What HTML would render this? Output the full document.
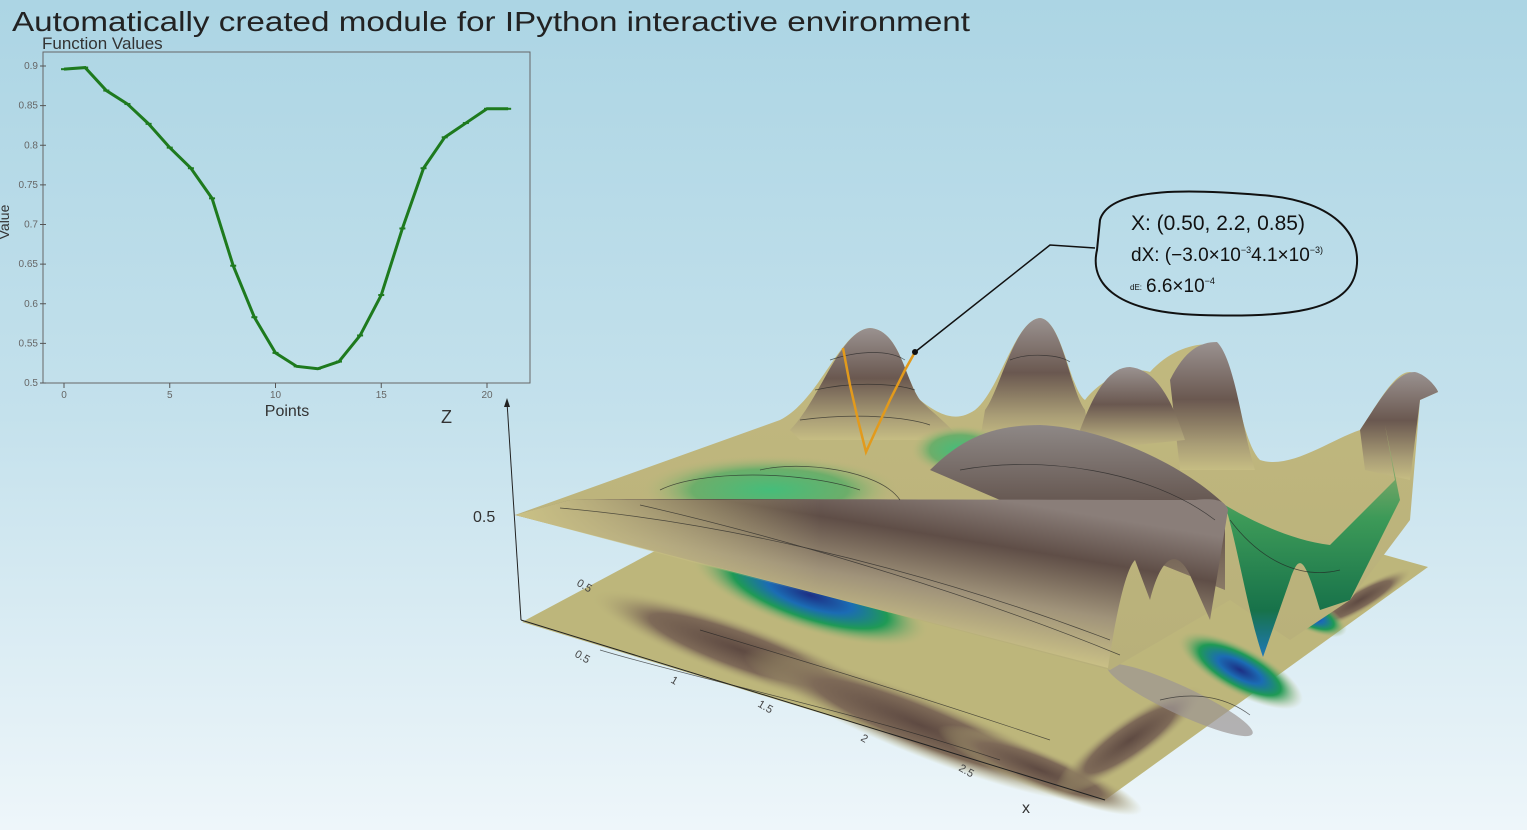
<!DOCTYPE html>
<html><head><meta charset="utf-8"><style>
html,body{margin:0;padding:0;width:1527px;height:830px;overflow:hidden}
body{background:linear-gradient(180deg,#acd5e4 0%,#c4e1ec 50%,#eef6fa 100%);font-family:"Liberation Sans",sans-serif}
svg{position:absolute;left:0;top:0}
</style></head><body>
<svg width="1527" height="830">
<defs>
<linearGradient id="peak" x1="0" y1="0" x2="0" y2="1">
<stop offset="0" stop-color="#9a9290"/><stop offset="0.45" stop-color="#6a5850"/><stop offset="0.8" stop-color="#a99d76"/><stop offset="1" stop-color="#c6bd83"/></linearGradient>
<linearGradient id="fold" gradientUnits="userSpaceOnUse" x1="1000" y1="500" x2="975" y2="650">
<stop offset="0" stop-color="#8a7e79"/><stop offset="0.3" stop-color="#5f4e47"/><stop offset="0.65" stop-color="#a0937a"/><stop offset="1" stop-color="#cdc487"/></linearGradient>
<linearGradient id="foldL" gradientUnits="userSpaceOnUse" x1="520" y1="0" x2="820" y2="0">
<stop offset="0" stop-color="#c9c085"/><stop offset="1" stop-color="#c9c085" stop-opacity="0"/></linearGradient>
<linearGradient id="dome" x1="0" y1="0" x2="0" y2="1">
<stop offset="0" stop-color="#8e8886"/><stop offset="0.55" stop-color="#5f4f48"/><stop offset="1" stop-color="#8a7a66"/></linearGradient>
<linearGradient id="backs" x1="0" y1="0" x2="0" y2="1">
<stop offset="0" stop-color="#c2b97f"/><stop offset="1" stop-color="#b8b07a"/></linearGradient>
<linearGradient id="gsheet" x1="0" y1="0" x2="0" y2="1">
<stop offset="0" stop-color="#b9b47a"/><stop offset="0.4" stop-color="#3d9a58"/><stop offset="0.8" stop-color="#17724a"/><stop offset="1" stop-color="#1f78b8"/></linearGradient>
<radialGradient id="blue"><stop offset="0" stop-color="#1d2f84"/><stop offset="0.35" stop-color="#1b6cb4"/><stop offset="0.65" stop-color="#1f9a55"/><stop offset="1" stop-color="#bdb77c" stop-opacity="0"/></radialGradient>
<radialGradient id="green"><stop offset="0" stop-color="#45bd7a"/><stop offset="0.6" stop-color="#6cae6a"/><stop offset="1" stop-color="#bdb77c" stop-opacity="0"/></radialGradient>
<radialGradient id="brown"><stop offset="0" stop-color="#5e4a42"/><stop offset="0.6" stop-color="#7e6a58"/><stop offset="1" stop-color="#bdb77c" stop-opacity="0"/></radialGradient>
</defs>

<text x="12" y="31" font-size="28" fill="#222" textLength="958" lengthAdjust="spacingAndGlyphs">Automatically created module for IPython interactive environment</text>

<g id="chart"></g>

<g>
<polygon points="522,622 1105,800 1428,567 900,420" fill="#bdb67b"/>
<g>
<ellipse cx="740" cy="650" rx="160" ry="28" transform="rotate(20 740 650)" fill="url(#brown)"/>
<ellipse cx="920" cy="725" rx="190" ry="30" transform="rotate(22 920 725)" fill="url(#brown)"/>
<ellipse cx="1040" cy="770" rx="110" ry="20" transform="rotate(22 1040 770)" fill="url(#brown)"/>
<ellipse cx="1130" cy="740" rx="90" ry="22" transform="rotate(-35 1130 740)" fill="url(#brown)"/>
<ellipse cx="1180" cy="700" rx="80" ry="14" transform="rotate(25 1180 700)" fill="#9c9694" opacity="0.7"/>
<ellipse cx="1360" cy="600" rx="60" ry="12" transform="rotate(-30 1360 600)" fill="url(#brown)"/>
</g>
<ellipse cx="810" cy="595" rx="125" ry="36" transform="rotate(18 810 595)" fill="url(#blue)"/>
<ellipse cx="1240" cy="670" rx="70" ry="24" transform="rotate(28 1240 670)" fill="url(#blue)"/>
<ellipse cx="1310" cy="615" rx="40" ry="16" transform="rotate(25 1310 615)" fill="url(#blue)"/>

<path fill="url(#backs)" d="M515,515 L780,420 C820,400 840,330 870,328 C900,330 905,380 920,400 C945,420 960,420 975,410 C1000,390 1015,320 1040,318 C1062,320 1070,390 1085,400 C1100,380 1130,365 1150,372 C1170,350 1195,342 1215,345 C1235,360 1240,440 1260,460 C1290,470 1330,440 1360,430 C1380,400 1395,372 1410,372 C1428,375 1438,390 1438,392 L1420,400 L1410,520 L1350,600 L1290,640 L1230,600 L1110,670 Z"/>
<path fill="url(#peak)" d="M790,430 C820,400 840,330 870,328 C900,330 905,380 920,400 C935,415 950,425 960,440 L800,440 Z"/>
<path fill="url(#peak)" d="M985,410 C1000,390 1015,320 1040,318 C1062,320 1070,390 1085,410 L1090,440 L980,440 Z"/>
<path fill="url(#peak)" d="M1170,380 C1185,350 1200,342 1217,342 C1235,360 1242,430 1255,470 L1180,470 Z"/>
<path fill="url(#peak)" d="M1360,430 C1380,400 1395,372 1415,372 C1428,375 1438,390 1438,392 L1420,400 L1410,480 L1365,470 Z"/>
<path fill="url(#peak)" d="M1080,430 C1095,390 1110,367 1130,367 C1160,370 1175,410 1185,440 L1090,450 Z"/>
<ellipse cx="770" cy="490" rx="130" ry="35" fill="url(#green)"/>
<ellipse cx="960" cy="450" rx="50" ry="25" fill="url(#green)"/>
<path fill="url(#dome)" d="M930,470 C960,440 990,425 1040,425 C1110,428 1190,470 1225,505 L1225,590 L1150,560 L1000,500 Z"/>
<path fill="url(#gsheet)" d="M1225,505 C1250,520 1290,540 1330,545 L1395,480 L1385,425 L1400,500 L1350,600 L1320,610 C1305,560 1300,550 1290,580 L1263,657 C1250,620 1240,560 1228,515 Z"/>
<path fill="url(#fold)" d="M515,515 L570,500 C700,498 1000,500 1195,500 C1215,498 1225,500 1228,510 L1210,620 L1190,575 C1175,545 1160,560 1150,600 L1135,560 C1125,570 1115,620 1108,668 Z"/>
<path fill="url(#foldL)" d="M515,515 L570,500 L820,500 L820,596 Z"/>
<g stroke="#222" stroke-width="0.7" fill="none" opacity="0.7">
<path d="M560,508 C700,520 900,560 1110,640"/><path d="M640,505 C750,530 950,585 1120,655"/>
<path d="M830,360 C860,350 890,350 905,360"/><path d="M815,390 C860,380 900,385 915,390"/><path d="M800,420 C860,412 910,418 930,425"/>
<path d="M1010,360 C1030,352 1060,355 1070,362"/><path d="M960,470 C1040,455 1150,470 1215,520"/>
<path d="M760,470 C800,460 880,470 900,500"/><path d="M660,490 C700,470 800,470 860,490"/>
<path d="M600,650 C700,680 850,710 1000,760"/><path d="M700,630 C800,660 900,690 1050,740"/>
<path d="M1160,700 C1200,690 1230,700 1250,715"/><path d="M1230,520 C1260,560 1300,580 1340,570"/>
</g>
<polyline points="843,348 850,385 858,420 866,452 876,430 890,400 905,370 915,352" fill="none" stroke="#e29a1c" stroke-width="2.5"/>
<circle cx="915" cy="352" r="3" fill="#111"/>
<line x1="521" y1="620" x2="507" y2="402" stroke="#222" stroke-width="1"/>
<polygon points="507,398 504,407 510,407" fill="#222"/>
<line x1="521" y1="620" x2="1105" y2="800" stroke="#222" stroke-width="1"/>
<text x="441" y="423" font-size="18" fill="#333">Z</text>
<text x="473" y="522" font-size="16" fill="#333">0.5</text>
<text x="1022" y="813" font-size="16" fill="#333">x</text>
<g font-size="11" fill="#444">
<text x="574" y="656" transform="rotate(30 574 656)">0.5</text><text x="670" y="682" transform="rotate(30 670 682)">1</text>
<text x="757" y="706" transform="rotate(30 757 706)">1.5</text><text x="860" y="740" transform="rotate(30 860 740)">2</text>
<text x="958" y="770" transform="rotate(30 958 770)">2.5</text><text x="576" y="585" transform="rotate(30 576 585)">0.5</text>
</g>
</g>

<g>
<polyline points="915,352 1050,245 1095,248" fill="none" stroke="#111" stroke-width="1.5"/>
<path d="M1100,220 C1110,185 1200,190 1260,195 C1340,200 1365,240 1355,275 C1345,310 1290,318 1200,315 C1110,312 1090,280 1097,250 Z" fill="none" stroke="#111" stroke-width="2"/>
<text x="1131" y="230" font-size="21" fill="#111">X:  (0.50, 2.2, 0.85)</text>
<text x="1131" y="261" font-size="19" fill="#111">dX: (−3.0×10<tspan font-size="9" dy="-8">−3</tspan><tspan dy="8">4.1×10</tspan><tspan font-size="9" dy="-8">−3)</tspan></text>
<text x="1130" y="290" font-size="8" fill="#111">dE:</text>
<text x="1146" y="292" font-size="19" fill="#111">6.6×10<tspan font-size="9" dy="-8">−4</tspan></text>
</g>
</svg>
<script>
const points=[0,1,2,3,4,5,6,7,8,9,10,11,12,13,14,15,16,17,18,19,20,21];
const values=[0.896,0.898,0.869,0.852,0.827,0.797,0.771,0.733,0.648,0.583,0.538,0.521,0.518,0.527,0.560,0.611,0.695,0.771,0.810,0.828,0.846,0.846];
const yTicks=[0.5,0.55,0.6,0.65,0.7,0.75,0.8,0.85,0.9];
const xTicks=[0,5,10,15,20];
const NS="http://www.w3.org/2000/svg";
const g=document.getElementById('chart');
const L=43,R=530,T=52,B=383;
const xs=v=>64+(v-0)*(487-64)/20;
const ys=v=>383-(v-0.5)*(383-66)/0.4;
function mk(t,a){const e=document.createElementNS(NS,t);for(const k in a)e.setAttribute(k,a[k]);g.appendChild(e);return e;}
let e=mk('rect',{x:L,y:T,width:R-L,height:B-T,fill:'none',stroke:'#666','stroke-width':1});


yTicks.forEach(v=>{
 const l=mk('line',{x1:L-3,x2:L+3,y1:ys(v),y2:ys(v),stroke:'#555'});
 
 
 const t=mk('text',{x:L-5,y:ys(v)+3,'font-size':10,fill:'#666','text-anchor':'end'});t.textContent=String(v);
 
 
});
xTicks.forEach(v=>{
 const l=mk('line',{x1:xs(v),x2:xs(v),y1:B,y2:B+5,stroke:'#555'});
 
 
 const t=mk('text',{x:xs(v),y:B+15,'font-size':10,fill:'#666','text-anchor':'middle'});t.textContent=v;
 
 
});
const line=mk('polyline',{points:points.map((p,i)=>xs(p)+','+ys(values[i])).join(' '),fill:'none',stroke:'#1e7a1e','stroke-width':3});


points.forEach((p,i)=>{const m=mk('line',{x1:xs(p)-3,x2:xs(p)+3,y1:ys(values[i]),y2:ys(values[i]),stroke:'#1e7a1e','stroke-width':2});
 
 });
let tt=mk('text',{x:42,y:49,'font-size':17,fill:'#333'});tt.textContent='Function Values';


let xl=mk('text',{x:287,y:416,'font-size':16,fill:'#333','text-anchor':'middle'});xl.textContent='Points';


let yl=mk('text',{x:9,y:222,'font-size':14,fill:'#333','text-anchor':'middle',transform:'rotate(-90 9 222)'});yl.textContent='Value';


</script>
</body></html>
